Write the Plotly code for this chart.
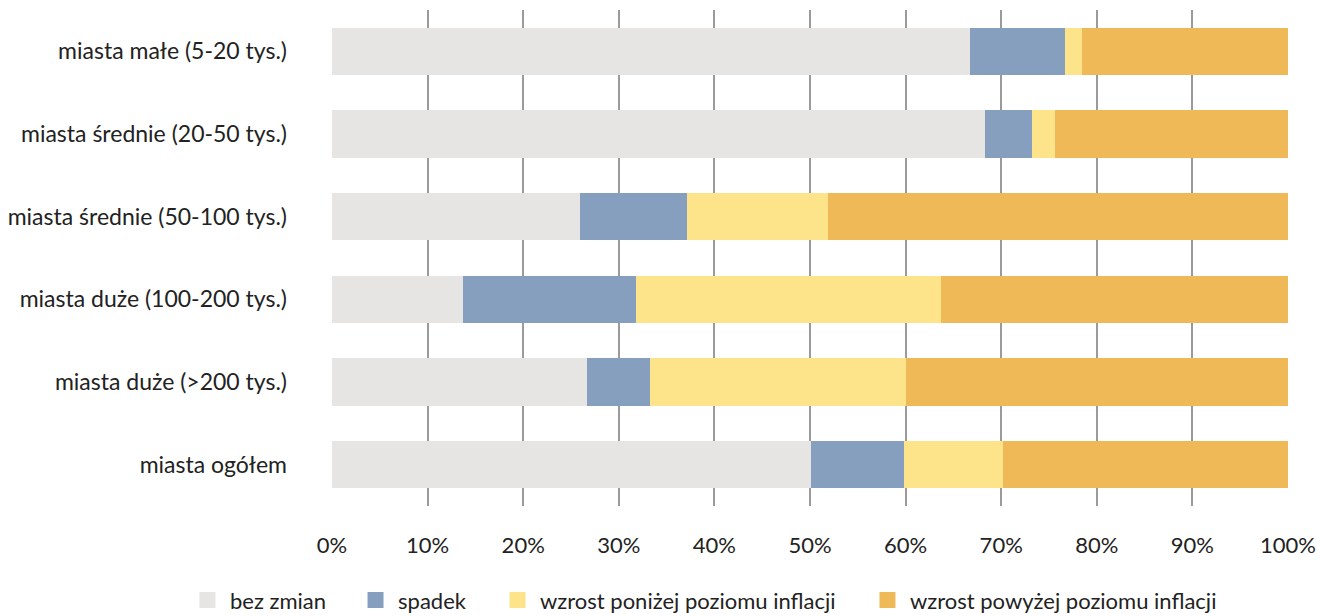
import plotly.graph_objects as go

categories = [
    "miasta małe (5-20 tys.)",
    "miasta średnie (20-50 tys.)",
    "miasta średnie (50-100 tys.)",
    "miasta duże (100-200 tys.)",
    "miasta duże (>200 tys.)",
    "miasta ogółem",
]
bez_zmian = [66.7, 68.3, 25.9, 13.7, 26.7, 50.1]
spadek = [10.0, 4.9, 11.2, 18.1, 6.6, 9.7]
wzrost_ponizej = [1.7, 2.4, 14.8, 31.9, 26.7, 10.4]
wzrost_powyzej = [21.6, 24.4, 48.1, 36.3, 40.0, 29.8]

series_names = ["bez zmian", "spadek", "wzrost poniżej poziomu inflacji", "wzrost powyżej poziomu inflacji"]
series_values = [bez_zmian, spadek, wzrost_ponizej, wzrost_powyzej]
colors = ["#E6E5E3", "#869FBE", "#FDE48B", "#F0B958"]
legend_x = [-0.1538, 0.0220, 0.1705, 0.5575]

tick_vals = list(range(0, 101, 10))
tick_text = [f"{v}%" for v in tick_vals]

FONT = "Lato"

fig = go.Figure()
for name, vals, col in zip(series_names, series_values, colors):
    fig.add_trace(go.Bar(
        y=categories, x=vals, name=name, orientation="h",
        marker=dict(color=col, line=dict(width=0)),
        showlegend=False,
    ))

legend_layout = {}
for i, (name, col, lx) in enumerate(zip(series_names, colors, legend_x)):
    key = "legend" if i == 0 else f"legend{i + 1}"
    fig.add_trace(go.Scatter(
        x=[None], y=[None], mode="markers", name=name,
        marker=dict(symbol="square", size=19, color=col),
        showlegend=True, legend=key,
    ))
    legend_layout[key] = dict(
        orientation="h", x=lx, xanchor="left", y=-0.19, yanchor="middle",
        font=dict(size=22, color="#222"), itemwidth=35, bgcolor="rgba(0,0,0,0)",
    )

fig.update_layout(
    barmode="stack",
    bargap=0.43,
    width=1317, height=616,
    margin=dict(l=332, r=29, t=10, b=110, autoexpand=False),
    paper_bgcolor="white", plot_bgcolor="white",
    font=dict(family=FONT, size=23, color="#222"),
    xaxis=dict(range=[0, 100], tickvals=tick_vals, ticktext=tick_text,
               showgrid=True, gridcolor="#9a9a9a", gridwidth=1.5,
               zeroline=False, showline=False, ticks="", ticklabelstandoff=24,
               ticklabeloverflow="allow", automargin=False,
               tickfont=dict(size=22, color="#222")),
    yaxis=dict(autorange="reversed", showgrid=False, zeroline=False, showline=False,
               ticks="", ticklabelstandoff=44, automargin=False,
               tickfont=dict(size=23, color="#222")),
    **legend_layout,
)

fig.write_html("out.html", config={"displayModeBar": False},
               post_script="document.body.style.margin='0';")
